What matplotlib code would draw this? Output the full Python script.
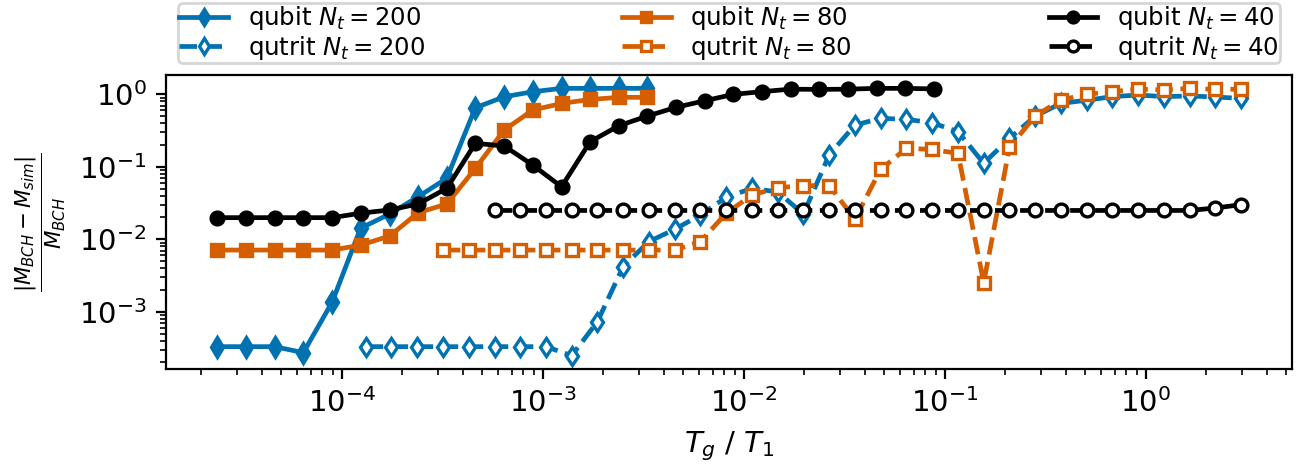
import matplotlib
matplotlib.use("Agg")
import matplotlib.pyplot as plt

# x grids (T_g / T_1)
x_qubit = [2.40e-5, 3.34e-5, 4.63e-5, 6.44e-5, 8.95e-5, 1.24e-4, 1.73e-4, 2.40e-4,
           3.33e-4, 4.62e-4, 6.43e-4, 8.91e-4, 1.24e-3, 1.72e-3, 2.39e-3, 3.32e-3,
           4.60e-3, 6.40e-3, 8.89e-3, 1.23e-2, 1.71e-2, 2.38e-2, 3.30e-2, 4.59e-2,
           6.37e-2, 8.85e-2]
x_qutrit = [1.315e-4, 1.766e-4, 2.371e-4, 3.184e-4, 4.276e-4, 5.754e-4, 7.727e-4,
            1.038e-3, 1.393e-3, 1.871e-3, 2.512e-3, 3.373e-3, 4.529e-3, 6.081e-3,
            8.185e-3, 1.099e-2, 1.476e-2, 1.982e-2, 2.661e-2, 3.573e-2, 4.797e-2,
            6.442e-2, 8.650e-2, 1.164e-1, 1.563e-1, 2.099e-1, 2.818e-1, 3.784e-1,
            5.082e-1, 6.823e-1, 9.162e-1, 1.230, 1.652, 2.213, 2.972]

# relative errors
qubit_200 = [3.3e-4, 3.3e-4, 3.3e-4, 2.73e-4, 1.35e-3, 0.0142, 0.0223, 0.0387,
             0.0694, 0.653, 0.927, 1.086, 1.21, 1.21, 1.21, 1.21]
qubit_80 = [7.1e-3, 7.1e-3, 7.1e-3, 7.1e-3, 7.1e-3, 8.3e-3, 0.0111, 0.0233,
            0.0307, 0.0953, 0.322, 0.607, 0.75, 0.85, 0.91, 0.91]
qubit_40 = [0.0199, 0.0199, 0.0199, 0.0199, 0.0199, 0.0229, 0.0254, 0.0307,
            0.0505, 0.211, 0.194, 0.106, 0.053, 0.222, 0.369, 0.502, 0.662,
            0.817, 1.0, 1.09, 1.18, 1.17, 1.18, 1.21, 1.21, 1.19]
qutrit_200 = [3.3e-4, 3.3e-4, 3.3e-4, 3.3e-4, 3.3e-4, 3.3e-4, 3.3e-4, 3.3e-4,
              2.48e-4, 7.3e-4, 4.2e-3, 9.3e-3, 0.0137, 0.0216, 0.038, 0.0505,
              0.045, 0.0223, 0.146, 0.377, 0.467, 0.452, 0.406, 0.305, 0.112,
              0.247, 0.50, 0.75, 0.83, 0.93, 0.98, 0.93, 0.95, 0.92, 0.88]
qutrit_80 = [7.1e-3, 7.1e-3, 7.1e-3, 7.1e-3, 7.1e-3, 7.1e-3, 7.1e-3, 7.1e-3,
             7.1e-3, 7.1e-3, 9.3e-3, 0.0229, 0.0408, 0.0515, 0.055, 0.055, 0.019,
             0.092, 0.18, 0.174, 0.153, 2.52e-3, 0.186, 0.502, 0.834, 1.0, 1.09,
             1.18, 1.15, 1.21, 1.17, 1.18]
qutrit_40 = [0.025] * 28 + [0.027, 0.030]

labels = [r"qubit $N_t = 200$", r"qutrit $N_t = 200$",
          r"qubit $N_t = 80$", r"qutrit $N_t = 80$",
          r"qubit $N_t = 40$", r"qutrit $N_t = 40$"]

BLUE = "#0072B2"
ORANGE = "#D55E00"
BLACK = "black"

fig = plt.figure(figsize=(6.52, 2.33), dpi=200)
ax = fig.add_axes([166/1304, 1 - 369/466, (1292-166)/1304, (369-75)/466])

lw = 1.7
ms = 4.6
mew = 1.2
ax.plot(x_qubit[:len(qubit_200)], qubit_200, "-", marker="d", color=BLUE,
        lw=lw, ms=5.0, mew=mew, label=labels[0])
ax.plot(x_qutrit[-len(qutrit_200):], qutrit_200, "--", marker="d", color=BLUE,
        mfc="white", lw=lw, ms=4.8, mew=mew, label=labels[1])
ax.plot(x_qubit[:len(qubit_80)], qubit_80, "-", marker="s", color=ORANGE,
        lw=lw, ms=ms, mew=mew, label=labels[2])
ax.plot(x_qutrit[-len(qutrit_80):], qutrit_80, "--", marker="s", color=ORANGE,
        mfc="white", lw=lw, ms=ms, mew=mew, label=labels[3])
ax.plot(x_qubit[:len(qubit_40)], qubit_40, "-", marker="o", color=BLACK,
        lw=lw, ms=ms, mew=mew, label=labels[4])
ax.plot(x_qutrit[-len(qutrit_40):], qutrit_40, "--", marker="o", color=BLACK,
        mfc="white", lw=lw, ms=ms, mew=mew, label=labels[5])

ax.set_xscale("log")
ax.set_yscale("log")
ax.tick_params(labelsize=10.5)
ax.set_xlabel(r"$T_g$ / $T_1$", fontsize=10.5)
ax.set_ylabel(r"$\frac{|M_{BCH}-M_{sim}|}{M_{BCH}}$", fontsize=11)

ax.legend(loc="lower left", bbox_to_anchor=(0, 1, 1, 0.2), mode="expand",
          ncol=3, fontsize=8.8, labelspacing=0.05, borderpad=0.05,
          borderaxespad=0.5, handlelength=2.0, markerscale=0.85)

fig.savefig("out.png", dpi=200)
